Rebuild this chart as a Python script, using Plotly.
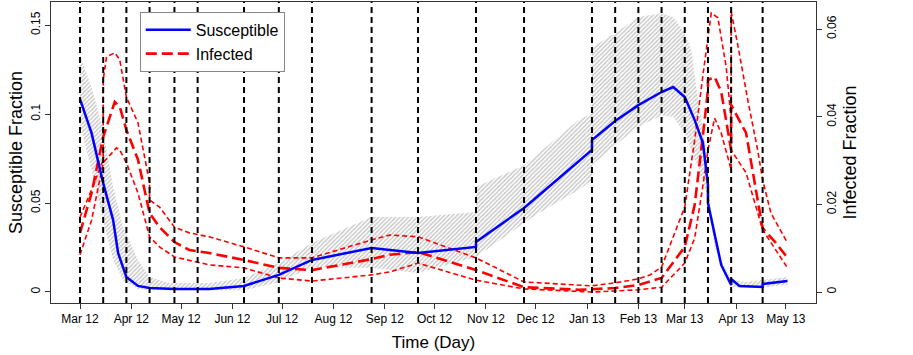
import plotly.graph_objects as go

## ----------- data ----------- ##
# vertical dashed lines (change points)
BREAKS = ["2012-03-01", "2012-03-15", "2012-03-29", "2012-04-12", "2012-04-27",
          "2012-05-11", "2012-06-08", "2012-06-29", "2012-07-19", "2012-08-24",
          "2012-09-21", "2012-10-26", "2012-11-24", "2013-01-04", "2013-01-18",
          "2013-02-01", "2013-02-15", "2013-03-01", "2013-03-15", "2013-03-29",
          "2013-04-17"]

# susceptible fraction (left axis)
S_DATES = ["2012-03-01", "2012-03-08", "2012-03-15", "2012-03-21", "2012-03-24",
           "2012-03-29", "2012-04-05", "2012-04-12", "2012-04-27", "2012-05-18",
           "2012-06-08", "2012-06-29", "2012-07-19", "2012-08-24", "2012-09-21",
           "2012-10-26", "2012-10-26", "2012-11-24", "2013-01-04", "2013-01-04",
           "2013-01-18", "2013-02-01", "2013-02-15", "2013-02-22", "2013-03-01",
           "2013-03-07", "2013-03-12", "2013-03-15", "2013-03-15", "2013-03-23",
           "2013-03-29", "2013-03-29", "2013-04-03", "2013-04-17", "2013-04-17",
           "2013-05-02"]
S_MEAN = [0.1084, 0.0893, 0.0612, 0.0404, 0.0219,
          0.0084, 0.0034, 0.0022, 0.0017, 0.0017,
          0.0034, 0.0096, 0.0180, 0.0247, 0.0219,
          0.0253, 0.0281, 0.0472, 0.0798, 0.0854,
          0.0961, 0.1050, 0.1124, 0.1152, 0.1096,
          0.0966, 0.0837, 0.0601, 0.0500, 0.0152,
          0.0039, 0.0073, 0.0034, 0.0028, 0.0045,
          0.0062]

S_UP_DATES = ["2012-03-01", "2012-03-08", "2012-03-15", "2012-03-21", "2012-03-27",
              "2012-04-05", "2012-04-12", "2012-04-24", "2012-05-18", "2012-06-08",
              "2012-06-29", "2012-07-19", "2012-08-24", "2012-09-21", "2012-10-26",
              "2012-10-26", "2012-11-24", "2012-12-27", "2013-01-04", "2013-01-04",
              "2013-01-18", "2013-02-01", "2013-02-15", "2013-02-22", "2013-03-01",
              "2013-03-05", "2013-03-09", "2013-03-14", "2013-03-17", "2013-03-23",
              "2013-03-29", "2013-04-07", "2013-05-02"]
S_UP = [0.1330, 0.1150, 0.0910, 0.0590, 0.0365,
        0.0180, 0.0084, 0.0051, 0.0051, 0.0079,
        0.0163, 0.0275, 0.0421, 0.0421, 0.0449,
        0.0590, 0.0713, 0.0966, 0.1006, 0.1376,
        0.1455, 0.1545, 0.1567, 0.1545, 0.1455,
        0.1360, 0.1079, 0.0798, 0.0421, 0.0180,
        0.0067, 0.0056, 0.0084]

S_LO_DATES = ["2012-03-01", "2012-03-08", "2012-03-15", "2012-03-21", "2012-03-27",
              "2012-04-05", "2012-04-12", "2012-06-08", "2012-06-29", "2012-07-19",
              "2012-08-24", "2012-09-21", "2012-10-26", "2012-11-24", "2012-12-03",
              "2012-12-27", "2013-01-04", "2013-01-04", "2013-01-18", "2013-02-01",
              "2013-02-15", "2013-02-22", "2013-03-01", "2013-03-09", "2013-03-14",
              "2013-03-19", "2013-03-26", "2013-03-29", "2013-04-14", "2013-05-02"]
S_LO = [0.0940, 0.0685, 0.0400, 0.0180, 0.0067,
        0.0017, 0.0010, 0.0010, 0.0056, 0.0140,
        0.0135, 0.0107, 0.0197, 0.0388, 0.0444,
        0.0573, 0.0630, 0.0713, 0.0826, 0.0927,
        0.0994, 0.0983, 0.0893, 0.0702, 0.0556,
        0.0253, 0.0084, 0.0028, 0.0022, 0.0039]

# infected fraction (right axis)
I_DATES = ["2012-03-01", "2012-03-08", "2012-03-15", "2012-03-22", "2012-03-25",
           "2012-03-29", "2012-04-05", "2012-04-12", "2012-04-18", "2012-04-27",
           "2012-05-06", "2012-05-18", "2012-06-08", "2012-06-29", "2012-07-19",
           "2012-08-24", "2012-09-04", "2012-09-21", "2012-10-26", "2012-11-24",
           "2012-12-27", "2013-01-04", "2013-01-18", "2013-02-01", "2013-02-15",
           "2013-03-01", "2013-03-07", "2013-03-12", "2013-03-15", "2013-03-15",
           "2013-03-19", "2013-03-23", "2013-03-27", "2013-03-29", "2013-03-29",
           "2013-04-07", "2013-04-14", "2013-04-17", "2013-04-25", "2013-05-02"]
I_MEAN = [0.0135, 0.0226, 0.0354, 0.0434, 0.0423,
          0.0370, 0.0302, 0.0180, 0.0148, 0.0114,
          0.0096, 0.0089, 0.0073, 0.0055, 0.0050,
          0.0075, 0.0085, 0.0091, 0.0050, 0.0011,
          0.0005, 0.0007, 0.0009, 0.0016, 0.0032,
          0.0103, 0.0199, 0.0359, 0.0461, 0.0484,
          0.0491, 0.0457, 0.0363, 0.0324, 0.0427,
          0.0363, 0.0210, 0.0146, 0.0112, 0.0078]

I_UP_DATES = ["2012-03-01", "2012-03-08", "2012-03-15", "2012-03-15", "2012-03-17",
              "2012-03-22", "2012-03-25", "2012-03-29", "2012-04-05", "2012-04-12",
              "2012-04-12", "2012-04-18", "2012-04-27", "2012-05-06", "2012-05-18",
              "2012-06-08", "2012-06-29", "2012-07-19", "2012-08-24", "2012-09-04",
              "2012-09-21", "2012-10-26", "2012-11-24", "2012-12-27", "2013-01-04",
              "2013-01-18", "2013-02-01", "2013-02-08", "2013-02-15", "2013-03-01",
              "2013-03-07", "2013-03-12", "2013-03-15", "2013-03-17", "2013-03-21",
              "2013-03-26", "2013-03-29", "2013-03-29", "2013-04-02", "2013-04-08",
              "2013-04-14", "2013-04-17", "2013-04-22", "2013-05-02"]
I_UP = [0.0171, 0.0233, 0.0302, 0.0484, 0.0537,
        0.0546, 0.0530, 0.0445, 0.0386, 0.0249,
        0.0210, 0.0194, 0.0148, 0.0135, 0.0126,
        0.0103, 0.0078, 0.0078, 0.0119, 0.0130,
        0.0126, 0.0078, 0.0023, 0.0016, 0.0014,
        0.0021, 0.0030, 0.0039, 0.0057, 0.0194,
        0.0347, 0.0496, 0.0587, 0.0637, 0.0626,
        0.0514, 0.0393, 0.0640, 0.0564, 0.0439,
        0.0324, 0.0256, 0.0180, 0.0112]

I_LO_DATES = ["2012-03-01", "2012-03-08", "2012-03-15", "2012-03-23", "2012-03-25",
              "2012-03-29", "2012-04-05", "2012-04-12", "2012-04-18", "2012-04-27",
              "2012-05-18", "2012-06-08", "2012-06-29", "2012-07-19", "2012-08-24",
              "2012-09-04", "2012-09-21", "2012-10-26", "2012-11-24", "2012-12-27",
              "2013-01-04", "2013-02-01", "2013-02-15", "2013-03-01", "2013-03-07",
              "2013-03-12", "2013-03-15", "2013-03-19", "2013-03-23", "2013-03-29",
              "2013-03-29", "2013-04-07", "2013-04-17", "2013-05-02"]
I_LO = [0.0085, 0.0164, 0.0295, 0.0329, 0.0324,
        0.0295, 0.0226, 0.0126, 0.0103, 0.0080,
        0.0062, 0.0055, 0.0032, 0.0025, 0.0039,
        0.0046, 0.0066, 0.0027, 0.0007, 0.0000,
        0.0000, 0.0005, 0.0011, 0.0066, 0.0123,
        0.0244, 0.0324, 0.0397, 0.0363, 0.0279,
        0.0324, 0.0272, 0.0142, 0.0055]

S_TICKS = [0, 0.05, 0.1, 0.15]
S_TICKTEXT = ["0", "0.05", "0.1", "0.15"]
I_TICKS = [0, 0.02, 0.04, 0.06]
I_TICKTEXT = ["0", "0.02", "0.04", "0.06"]

FONT = "Liberation Sans, Arial, sans-serif"
AXC = "#333333"

fig = go.Figure()

## gray hatched band for susceptible
fig.add_trace(go.Scatter(
    x=S_UP_DATES + S_LO_DATES[::-1],
    y=S_UP + S_LO[::-1],
    fill="toself",
    mode="lines",
    line=dict(width=0, color="rgba(0,0,0,0)"),
    fillcolor="rgba(255,255,255,0)",
    fillpattern=dict(shape="/", fgcolor="#8c8c8c", bgcolor="rgba(255,255,255,0)",
                     size=3, solidity=0.45),
    showlegend=False, hoverinfo="skip", yaxis="y",
))

## infected: CI (short dash) and mean (long dash)
for xs, ys in [(I_UP_DATES, I_UP), (I_LO_DATES, I_LO)]:
    fig.add_trace(go.Scatter(
        x=xs, y=ys, mode="lines",
        line=dict(color="#ff0000", width=1.6, dash="5px,3px"),
        showlegend=False, yaxis="y2",
    ))
fig.add_trace(go.Scatter(
    x=I_DATES, y=I_MEAN, mode="lines",
    line=dict(color="#ff0000", width=2.6, dash="11px,5px"),
    name="Infected", yaxis="y2",
))

## susceptible mean on top
fig.add_trace(go.Scatter(
    x=S_DATES, y=S_MEAN, mode="lines",
    line=dict(color="#0000ff", width=2.5),
    name="Susceptible", yaxis="y3",
))

for d in BREAKS:
    fig.add_vline(x=d, line=dict(color="black", width=2, dash="6px,4px"))

s_range = [-0.0062, 0.163]
fig.update_layout(
    width=913, height=355,
    margin=dict(l=51, r=97, t=2, b=52),
    paper_bgcolor="white", plot_bgcolor="white",
    font=dict(family=FONT, size=12, color="black"),
    showlegend=True,
    legend=dict(x=0.116, y=0.967, xanchor="left", yanchor="top",
                bgcolor="white", bordercolor="#888888", borderwidth=1,
                font=dict(size=16), traceorder="reversed", itemwidth=45,
                tracegroupgap=0),
    xaxis=dict(
        type="date", range=["2012-02-12 12:00", "2013-05-19 05:00"],
        tick0="2012-03-01", dtick="M1", tickformat="%b %y",
        ticks="outside", ticklen=5, tickcolor=AXC, automargin=False,
        showline=True, linecolor=AXC, mirror=True, showgrid=False, zeroline=False,
        title=dict(text="Time (Day)", font=dict(size=17), standoff=10),
    ),
    yaxis=dict(
        range=s_range, tickvals=S_TICKS, ticktext=S_TICKTEXT, tickangle=-90,
        ticks="outside", ticklen=5, tickcolor=AXC, automargin=False,
        showline=True, linecolor=AXC, showgrid=False, zeroline=False,
        title=dict(text="Susceptible Fraction", font=dict(size=18), standoff=1),
    ),
    yaxis2=dict(
        overlaying="y", side="right", automargin=False,
        range=[-0.00251, 0.0662], tickvals=I_TICKS, ticktext=I_TICKTEXT, tickangle=-90,
        ticks="outside", ticklen=5, tickcolor=AXC,
        showline=True, linecolor=AXC, showgrid=False, zeroline=False,
        title=dict(text="Infected Fraction", font=dict(size=18), standoff=4),
    ),
    yaxis3=dict(overlaying="y", range=s_range, visible=False),
)

## page body has a default 8px margin; drop it so the figure sits at the origin
fig.write_html("out.html", config={"displayModeBar": False},
               post_script="document.body.style.margin='0';")
